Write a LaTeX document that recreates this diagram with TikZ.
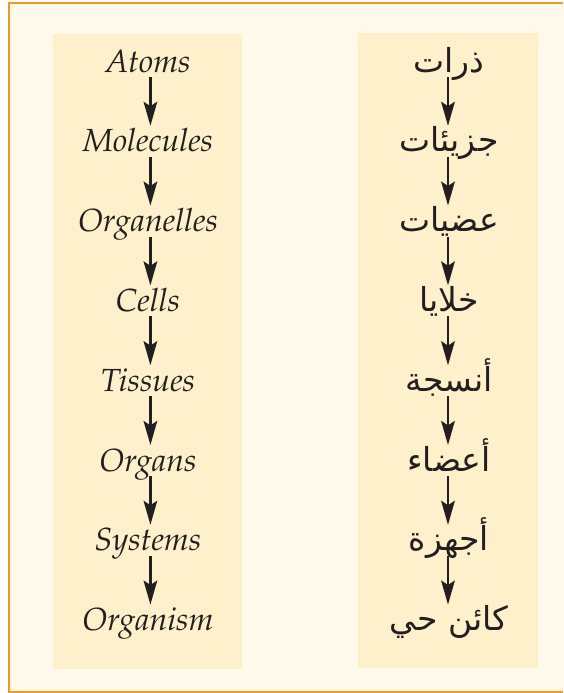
\documentclass[tikz,border=0pt]{standalone}
\usepackage[T1]{fontenc}
\usepackage{fontspec}
\usetikzlibrary{arrows.meta}
\TeXXeTstate=1
\newfontfamily\arabicfont[Script=Arabic]{DejaVu Sans}
\newcommand\palit{\fontencoding{T1}\fontfamily{ppl}\fontseries{m}\fontshape{it}\selectfont}
\definecolor{frameorange}{HTML}{F09A22}
\definecolor{outerfill}{HTML}{FEF9EA}
\definecolor{panelfill}{HTML}{FDF0CA}
\definecolor{inkc}{HTML}{231F20}
\tikzset{
  en/.style={inner sep=0pt, text=inkc, font=\fontsize{16}{19}\palit},
  ar/.style={inner sep=0pt, text=inkc, font=\fontsize{16.5}{19}\arabicfont},
  arr/.style={draw=inkc, line width=1.25pt, -{Stealth[length=12pt,width=6.8pt,inset=2.2pt]}}
}
\begin{document}
\begin{tikzpicture}[x=0.5pt,y=-0.5pt]
\useasboundingbox (0,0) rectangle (564,693);
\fill[white] (0,0) rectangle (564,693);
\fill[outerfill] (9,3) rectangle (564,692);
\draw[frameorange, line width=1.2pt, line cap=butt] (563,3) -- (9,3) -- (9,692) -- (563,692);
\fill[panelfill] (53,34) rectangle (242,669);
\fill[panelfill] (358,33) rectangle (538,668);
% English column
\foreach \t [count=\i from 0] in {Atoms,Molecules,Organelles,Cells,Tissues,Organs,Systems,Organism}{
  \node[en, anchor=base] (e\i) at (148,{72+79.8*\i}) {\t};
}
% Arabic column
\node[ar, anchor=base] (a0) at (449,72) {\beginR ذرات\endR};
\node[ar, anchor=base] (a1) at (449,{72+79.8*1}) {\beginR جزيئات\endR};
\node[ar, anchor=base] (a2) at (449,{72+79.8*2}) {\beginR عضيات\endR};
\node[ar, anchor=base] (a3) at (449,{72+79.8*3}) {\beginR خلايا\endR};
\node[ar, anchor=base] (a4) at (449,{72+79.8*4}) {\beginR أنسجة\endR};
\node[ar, anchor=base] (a5) at (449,{72+79.8*5}) {\beginR أعضاء\endR};
\node[ar, anchor=base] (a6) at (449,{72+79.8*6}) {\beginR أجهزة\endR};
\node[ar, anchor=base] (a7) at (449,{72+79.8*7}) {\beginR كائن حي\endR};
\foreach \i [evaluate=\i as \j using int(\i+1)] in {0,...,6}{
  \draw[arr] ([xshift=1.2pt,yshift=-2.5pt]e\i.base) -- ([xshift=1.2pt,yshift=13pt]e\j.base);
  \draw[arr] ([xshift=-0.5pt,yshift=-2.5pt]a\i.base) -- ([xshift=-0.5pt,yshift=13pt]a\j.base);
}
\end{tikzpicture}
\end{document}
